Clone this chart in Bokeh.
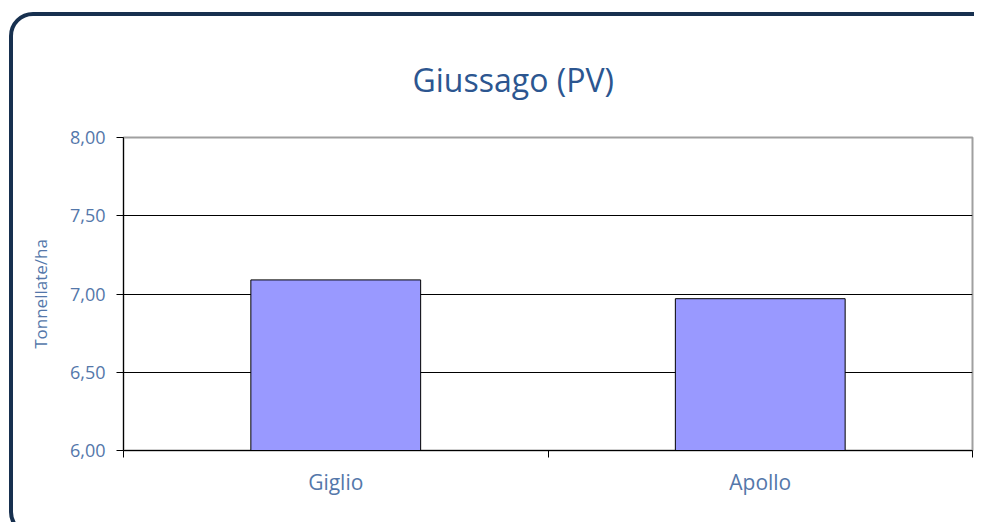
from bokeh.plotting import figure
from bokeh.models import FixedTicker, Range1d, InlineStyleSheet
from bokeh.embed import file_html
from bokeh.resources import INLINE

categories = ["Giglio", "Apollo"]
values = [7.09, 6.97]
y_ticks = [6.0, 6.5, 7.0, 7.5, 8.0]
y_tick_labels = ["6,00", "6,50", "7,00", "7,50", "8,00"]
title_text = "Giussago (PV)"
y_label = "Tonnellate/ha"

FONT = "Open Sans"
TITLE_COLOR = "#2c5690"
LABEL_COLOR = "#5477aa"

x_pos = [i + 0.5 for i in range(len(categories))]

border_css = InlineStyleSheet(css="""
:host { overflow: hidden; }
:host::after {
  content: "";
  position: absolute;
  left: 8.5px;
  top: 12px;
  width: 1000px;
  height: 524px;
  border: 4px solid #17304f;
  border-radius: 24px;
  pointer-events: none;
  box-sizing: border-box;
}
""")

p = figure(width=974, height=522, output_backend="svg", toolbar_location=None,
           x_range=Range1d(0, len(categories)), y_range=Range1d(6, 8),
           min_border_left=123, min_border_right=2, min_border_top=137,
           min_border_bottom=72, stylesheets=[border_css])

p.vbar(x=x_pos, top=values, bottom=6, width=0.4, fill_color="#9999ff",
       line_color="black", line_width=1)

# title
p.title.text = title_text
p.title.align = "left"
p.title.offset = 289
p.title.text_font = FONT
p.title.text_font_size = "32px"
p.title.text_font_style = "normal"
p.title.text_color = TITLE_COLOR
p.title.standoff = 74

# frame
p.outline_line_color = "#a0a0a0"
p.outline_line_width = 2
p.background_fill_color = "white"

# y axis
p.yaxis.ticker = FixedTicker(ticks=y_ticks)
p.yaxis.major_label_overrides = {t: l for t, l in zip(y_ticks, y_tick_labels)}
p.yaxis.axis_label = y_label
p.yaxis.axis_label_text_font = FONT
p.yaxis.axis_label_text_font_size = "17px"
p.yaxis.axis_label_text_font_style = "normal"
p.yaxis.axis_label_text_color = LABEL_COLOR
p.yaxis.axis_label_standoff = 15
p.yaxis.major_label_text_font = FONT
p.yaxis.major_label_text_font_size = "18px"
p.yaxis.major_label_text_color = LABEL_COLOR
p.yaxis.major_label_standoff = 11
p.yaxis.major_tick_out = 7
p.yaxis.major_tick_in = 0
p.yaxis.minor_tick_line_color = None
p.yaxis.axis_line_color = "black"
p.yaxis.major_tick_line_color = "black"

# x axis: labels at category centres, ticks at boundaries
p.xaxis.ticker = FixedTicker(ticks=x_pos, minor_ticks=list(range(len(categories) + 1)))
p.xaxis.major_label_overrides = {x: c for x, c in zip(x_pos, categories)}
p.xaxis.major_tick_out = 0
p.xaxis.major_tick_in = 0
p.xaxis.minor_tick_out = 7
p.xaxis.minor_tick_in = 0
p.xaxis.minor_tick_line_color = "black"
p.xaxis.major_label_text_font = FONT
p.xaxis.major_label_text_font_size = "21px"
p.xaxis.major_label_text_color = LABEL_COLOR
p.xaxis.major_label_standoff = 10
p.xaxis.axis_line_color = "black"

# grid
p.xgrid.grid_line_color = None
p.ygrid.ticker = FixedTicker(ticks=y_ticks)
p.ygrid.grid_line_color = "black"
p.ygrid.grid_line_width = 1

open("out.html", "w").write(file_html(p, INLINE))
